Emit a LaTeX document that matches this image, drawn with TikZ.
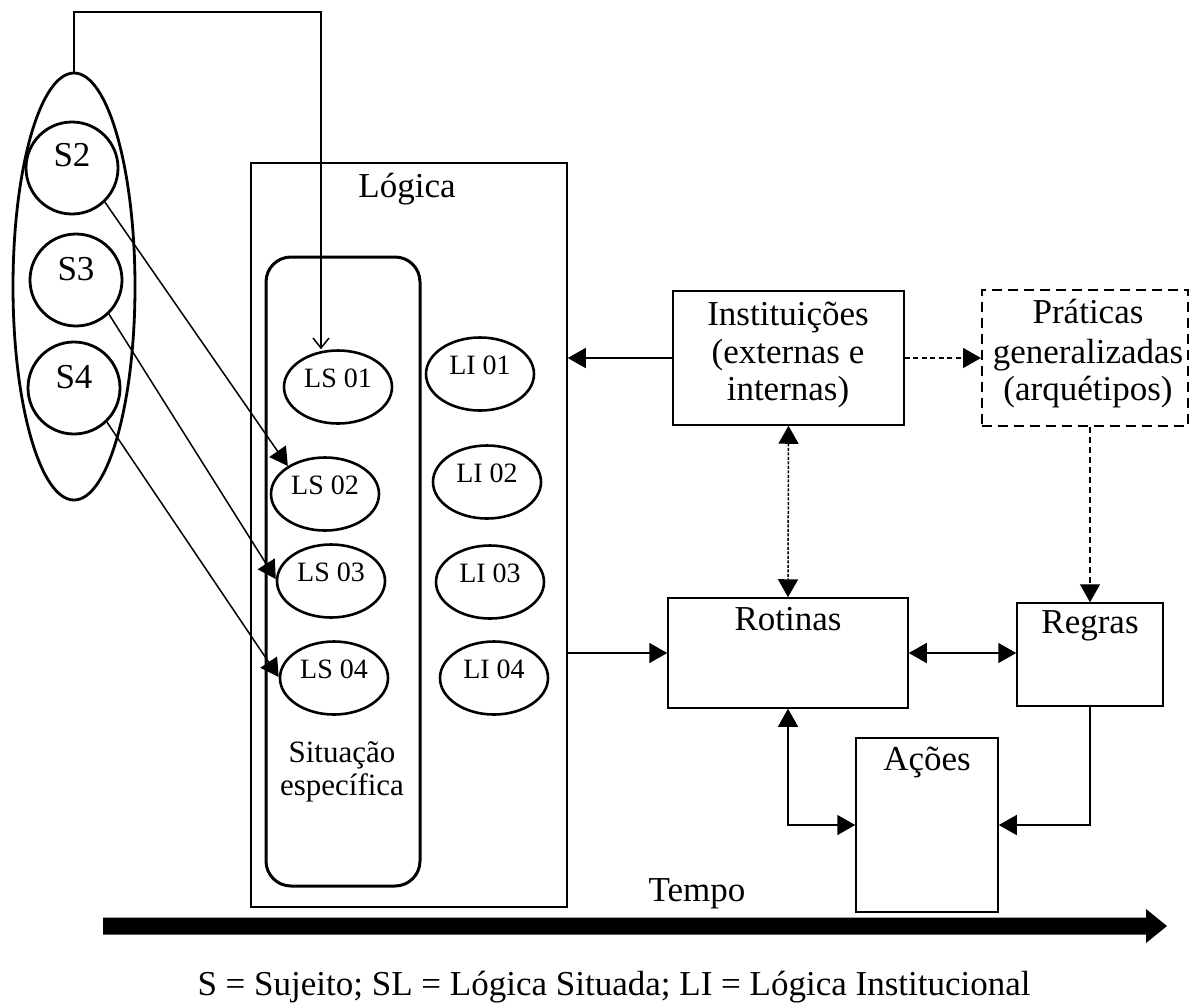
\documentclass[tikz,border=0pt]{standalone}
\usepackage{fontspec}
\setmainfont{Liberation Serif}
\usetikzlibrary{arrows.meta,shapes.geometric}
\begin{document}
\begin{tikzpicture}[x=1pt,y=-1pt,
  box/.style={draw, line width=1.5pt, rectangle, inner sep=0pt},
  dbox/.style={draw, line width=2pt, dash pattern=on 10pt off 6pt, rectangle, inner sep=0pt},
  lsell/.style={draw, ellipse, line width=2.6pt, minimum width=108pt, minimum height=73pt, inner sep=0pt},
  subj/.style={draw, circle, line width=2.8pt, minimum size=92pt, inner sep=0pt},
  txt/.style={font=\fontsize{35}{40}\selectfont, inner sep=0pt, anchor=base},
  sittxt/.style={font=\fontsize{31}{36}\selectfont, inner sep=0pt, anchor=base},
  smalltxt/.style={font=\fontsize{28}{32}\selectfont, inner sep=0pt, anchor=base},
  conn/.style={line width=1.5pt},
  tri/.style={-{Triangle[length=18pt,width=20pt]}},
  tritwo/.style={{Triangle[length=18pt,width=20pt]}-{Triangle[length=18pt,width=20pt]}},
  dashone/.style={line width=1.5pt, dash pattern=on 5pt off 3.5pt},
  dashtwo/.style={line width=1.3pt, dash pattern=on 6pt off 4pt},
  dotline/.style={line width=1.5pt, dash pattern=on 3pt off 1.5pt}
]
\useasboundingbox (0,0) rectangle (1190,1002);

% Logic box and situated rounded box
\node[box, minimum width=316pt, minimum height=744pt] (logic) at (409,535) {};
\node[txt] (tlogic) at (407,197) {Lógica};
\node[draw, line width=3pt, rounded corners=25pt, minimum width=154pt, minimum height=629pt, inner sep=0pt] (sit) at (343,571.5) {};
\node[sittxt] (tsit1) at (342,762) {Situação};
\node[sittxt] (tsit2) at (342,795) {específica};

% LS / LI ellipses
\node[lsell] (ls1) at (338,387) {};
\node[lsell] (ls2) at (325,494) {};
\node[lsell] (ls3) at (331,581) {};
\node[lsell] (ls4) at (334,678) {};
\node[lsell] (li1) at (480,374) {};
\node[lsell] (li2) at (487,482) {};
\node[lsell] (li3) at (490,582) {};
\node[lsell] (li4) at (494,678) {};
\node[smalltxt] (tls1) at (ls1.center) {LS 01};
\node[smalltxt] (tls2) at (ls2.center) {LS 02};
\node[smalltxt] (tls3) at (ls3.center) {LS 03};
\node[smalltxt] (tls4) at (ls4.center) {LS 04};
\node[smalltxt] (tli1) at (li1.center) {LI 01};
\node[smalltxt] (tli2) at (li2.center) {LI 02};
\node[smalltxt] (tli3) at (li3.center) {LI 03};
\node[smalltxt] (tli4) at (li4.center) {LI 04};

% Subjects
\node[draw, ellipse, line width=2.8pt, minimum width=122pt, minimum height=427pt, inner sep=0pt] (group) at (74,286.5) {};
\node[subj] (s2) at (72,168) {};
\node[subj] (s3) at (76,280) {};
\node[subj] (s4) at (74,388) {};
\node[txt] (ts2) at ([yshift=2pt]s2.center) {S2};
\node[txt] (ts3) at ([yshift=0pt]s3.center) {S3};
\node[txt] (ts4) at ([yshift=0pt]s4.center) {S4};

% Right side boxes
\node[box, minimum width=231pt, minimum height=134pt] (inst) at (788.5,358) {};
\node[txt] (tinst1) at (788,325) {Instituições};
\node[txt] (tinst2) at (788,363) {(externas e};
\node[txt] (tinst3) at (788,400) {internas)};

\node[dbox, minimum width=206pt, minimum height=136pt] (prat) at (1085,358) {};
\node[txt] (tprat1) at (1088,323) {Práticas};
\node[txt] (tprat2) at (1088,363) {generalizadas};
\node[txt] (tprat3) at (1088,400) {(arquétipos)};

\node[box, minimum width=240pt, minimum height=110pt] (rot) at (788,653) {};
\node[txt] (trot) at (788,630) {Rotinas};

\node[box, minimum width=146pt, minimum height=103pt] (reg) at (1090,654.5) {};
\node[txt] (treg) at (1090,633) {Regras};

\node[box, minimum width=142pt, minimum height=174pt] (act) at (927,825) {};
\node[txt] (tact) at (927,770) {Ações};

% Connectors
\coordinate (topc) at (321,12);
\draw[conn, -{Straight Barb[length=10pt,width=16pt]}] (group.north) |- (topc) -- (topc |- ls1.north);
\draw[conn, tri] (s2.-46) -- (ls2.143);
\draw[conn, tri] (s3.-46) -- (ls3.178);
\draw[conn, tri] (s4.-46) -- (ls4.179);

\draw[conn, tri] (inst.west) -- (inst.west -| logic.east);
\draw[conn, tri] (logic.east |- rot.west) -- (rot.west);
\draw[conn, tritwo] (rot.east) -- (rot.east -| reg.west);
\draw[dotline, tritwo] (inst.south) -- (rot.north);
\draw[dashone, tri] (inst.east) -- (prat.west);
\draw[dashtwo, tri] (prat.south -| reg.north) -- (reg.north);
\draw[conn, tritwo] (rot.south) |- (act.west);
\draw[conn, tri] (reg.south) |- (act.east);

% Time arrow
\fill (103,917.5) -- (1146,917.5) -- (1146,909) -- (1167,926) -- (1146,943) -- (1146,934.5) -- (103,934.5) -- cycle;
\node[txt] (ttempo) at (697,901) {Tempo};

% Caption
\node[txt] (caption) at (614,995) {S = Sujeito; SL = Lógica Situada; LI = Lógica Institucional};
\end{tikzpicture}
\end{document}
